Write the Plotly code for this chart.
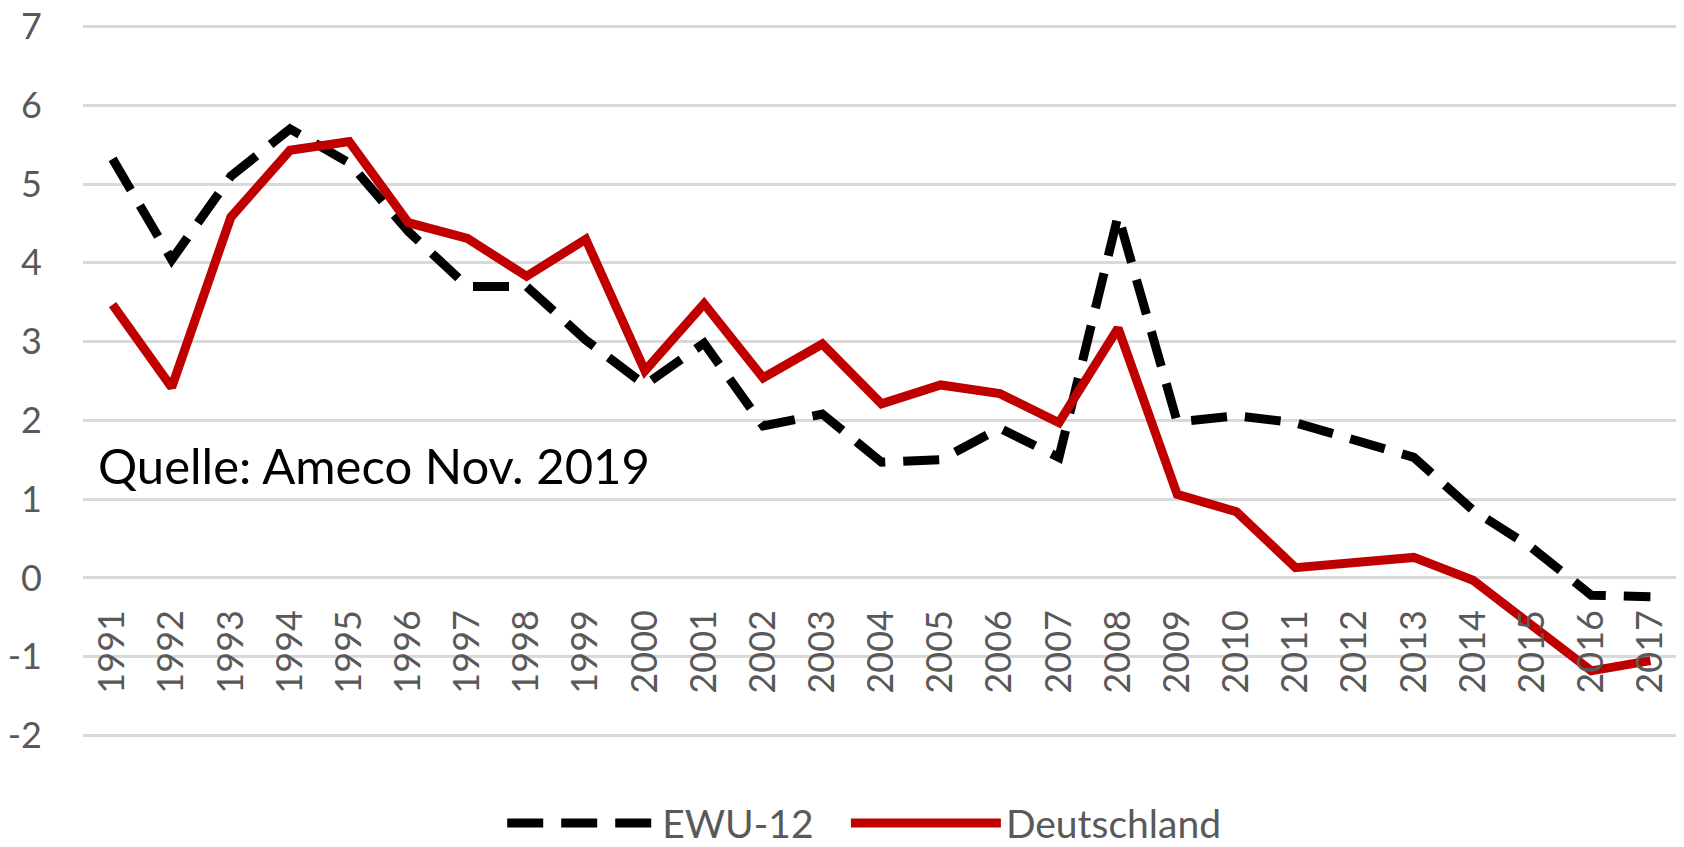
import plotly.graph_objects as go

years = [str(y) for y in range(1991, 2018)]
ewu12 = [5.32, 4.04, 5.10, 5.70, 5.27, 4.40, 3.70, 3.70, 3.02, 2.45, 2.98, 1.93,
         2.08, 1.47, 1.50, 1.90, 1.53, 4.60, 1.98, 2.06, 1.97, 1.76, 1.53, 0.86,
         0.38, -0.22, -0.24]
deutschland = [3.47, 2.42, 4.58, 5.43, 5.54, 4.51, 4.31, 3.83, 4.30, 2.63, 3.48, 2.54,
               2.97, 2.21, 2.45, 2.34, 1.97, 3.17, 1.06, 0.84, 0.13, 0.19, 0.26, -0.03,
               -0.60, -1.18, -1.05]
y_ticks = [-2, -1, 0, 1, 2, 3, 4, 5, 6, 7]
y_tick_text = ["-2", "-1", "0", "1", "2", "3", "4", "5", "6", "7"]
source_text = "Quelle: Ameco Nov. 2019"

FONT = "Lato"
GRAY = "#595959"
Y_MIN, Y_MAX = -2.02, 7.02

fig = go.Figure()
fig.add_trace(go.Scatter(
    x=years, y=ewu12, name="EWU-12", mode="lines", legend="legend",
    line=dict(color="#000000", width=9, dash="36px,18px"),
))
fig.add_trace(go.Scatter(
    x=years, y=deutschland, name="Deutschland", mode="lines", legend="legend2",
    line=dict(color="#C00000", width=9),
))

legend_common = dict(
    orientation="h", yanchor="middle", y=-0.121, xanchor="left",
    itemwidth=150, font=dict(family=FONT, size=39, color=GRAY),
    bgcolor="rgba(0,0,0,0)", itemclick=False, itemdoubleclick=False,
)

# the page body has an 8px default margin, so the figure is 8px smaller
fig.update_layout(
    width=1676, height=839,
    margin=dict(l=75, r=4, t=17, b=110, autoexpand=False),
    paper_bgcolor="white", plot_bgcolor="white",
    font=dict(family=FONT, size=36, color=GRAY),
    showlegend=True,
    legend=dict(x=0.2625, **legend_common),
    legend2=dict(x=0.4777, **legend_common),
    xaxis=dict(
        type="category", categoryorder="array", categoryarray=years,
        anchor="free", position=(0 - Y_MIN) / (Y_MAX - Y_MIN),
        showgrid=False, zeroline=False, showline=False, ticks="",
        tickangle=-90, ticklabelstandoff=24, ticklabeloverflow="allow",
        tickfont=dict(family=FONT, size=36, color=GRAY),
        range=[-0.5, len(years) - 0.5],
    ),
    yaxis=dict(
        range=[Y_MIN, Y_MAX], tickvals=y_ticks, ticktext=y_tick_text, domain=[0, 1],
        showgrid=True, gridcolor="#D9D9D9", gridwidth=3,
        zeroline=False, showline=False, ticks="",
        ticklabelstandoff=40, ticklabeloverflow="allow",
        tickfont=dict(family=FONT, size=36, color=GRAY),
    ),
    annotations=[dict(
        text=source_text, xref="paper", yref="y", x=0.0084, y=1.43,
        xanchor="left", yanchor="middle", showarrow=False,
        font=dict(family=FONT, size=49, color="#000000"),
    )],
)

fig.write_html("out.html")
